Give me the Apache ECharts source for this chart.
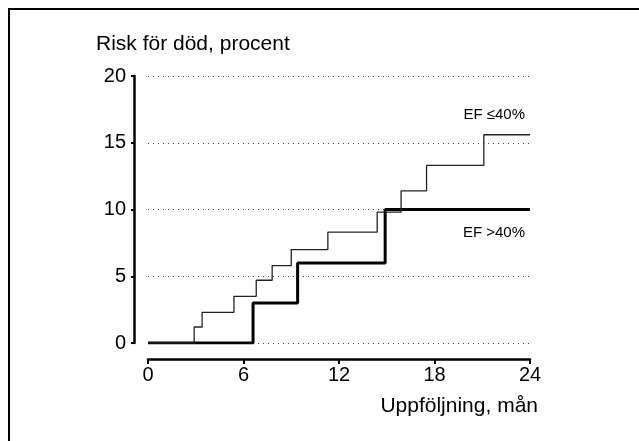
<!DOCTYPE html>
<html>
<head>
<meta charset="utf-8">
<script src="https://cdn.jsdelivr.net/npm/echarts@6/dist/echarts.min.js"></script>
<style>
html,body{margin:0;padding:0;background:#fff;}
#chart{width:639px;height:441px;}
</style>
</head>
<body>
<div id="chart"></div>
<script>
// Data (step functions: time in months, cumulative risk %)
const efLowName = 'EF ≤40%';
const efLowTimes = [0, 2.9, 3.4, 5.4, 6.8, 7.8, 9.0, 11.3, 14.4, 15.9, 17.5, 21.1, 24];
const efLowRisk  = [0, 1.2, 2.3, 3.5, 4.7, 5.8, 7.0, 8.3, 9.8, 11.4, 13.3, 15.6, 15.6];
const efHighName = 'EF >40%';
const efHighTimes = [0, 6.6, 9.4, 14.9, 24];
const efHighRisk  = [0, 3.0, 6.0, 10.0, 10.0];
const xTickValues = [0, 6, 12, 18, 24];
const yTickValues = [0, 5, 10, 15, 20];
const yTitle = 'Risk för död, procent';
const xTitle = 'Uppföljning, mån';

const FONT = '"Liberation Sans", Arial, sans-serif';
const zip = (a, b) => a.map((v, i) => [v, b[i]]);

const chart = echarts.init(document.getElementById('chart'), null, {renderer: 'canvas'});
chart.setOption({
  animation: false,
  backgroundColor: '#fff',
  grid: {left: 148, right: 109, top: 76, bottom: 98},
  xAxis: {
    type: 'value',
    min: xTickValues[0], max: xTickValues[xTickValues.length - 1],
    interval: xTickValues[1] - xTickValues[0],
    offset: 16,
    axisLine: {show: true, onZero: false, lineStyle: {color: '#000', width: 2.5}},
    axisTick: {show: true, length: 5, lineStyle: {color: '#000', width: 2}},
    axisLabel: {color: '#000', fontSize: 20, fontFamily: FONT, margin: 6},
    splitLine: {show: false}
  },
  yAxis: {
    type: 'value',
    min: yTickValues[0], max: yTickValues[yTickValues.length - 1],
    interval: yTickValues[1] - yTickValues[0],
    offset: 14,
    axisLine: {show: true, onZero: false, lineStyle: {color: '#000', width: 2.5}},
    axisTick: {show: true, length: 3, lineStyle: {color: '#000', width: 2}},
    axisLabel: {color: '#000', fontSize: 20, fontFamily: FONT, margin: 8},
    splitLine: {show: true, lineStyle: {color: '#444', width: 1, type: [1, 4]}}
  },
  series: [
    {
      name: efHighName, type: 'line', step: 'end', symbol: 'none',
      data: zip(efHighTimes, efHighRisk),
      lineStyle: {color: '#000', width: 3},
      z: 3
    },
    {
      name: efLowName, type: 'line', step: 'end', symbol: 'none',
      data: zip(efLowTimes, efLowRisk),
      lineStyle: {color: '#222', width: 1.3},
      z: 4
    }
  ],
  graphic: [
    {type: 'rect', shape: {x: 9, y: 9, width: 800, height: 600},
     style: {fill: 'none', stroke: '#000', lineWidth: 2}, silent: true},
    {type: 'text', left: 96, top: 34,
     style: {text: yTitle, fill: '#000', font: '21px ' + FONT}},
    {type: 'text', right: 101, top: 396,
     style: {text: xTitle, fill: '#000', font: '21px ' + FONT}},
    {type: 'text', right: 114, top: 107,
     style: {text: efLowName, fill: '#000', font: '15px ' + FONT}},
    {type: 'text', right: 114, top: 225,
     style: {text: efHighName, fill: '#000', font: '15px ' + FONT}}
  ]
});
</script>
</body>
</html>
